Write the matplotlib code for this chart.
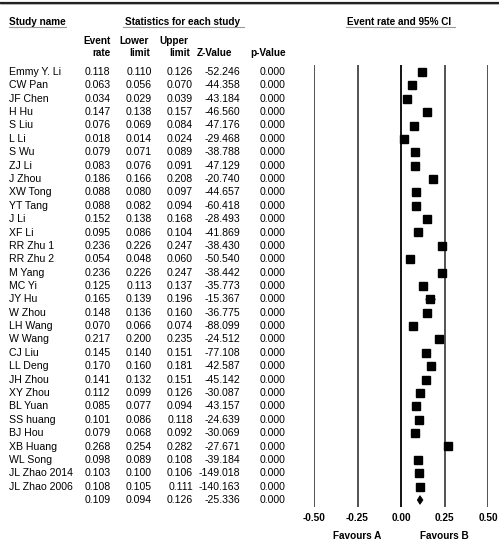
import matplotlib
matplotlib.use("Agg")
import matplotlib.pyplot as plt
from matplotlib.patches import Polygon
import matplotlib.transforms as mtransforms

plt.rcParams['font.family'] = ['Liberation Sans', 'DejaVu Sans']

study_names = ["Emmy Y. Li", "CW Pan", "JF Chen", "H Hu", "S Liu", "L Li", "S Wu", "ZJ Li",
               "J Zhou", "XW Tong", "YT Tang", "J Li", "XF Li", "RR Zhu 1", "RR Zhu 2", "M Yang",
               "MC Yi", "JY Hu", "W Zhou", "LH Wang", "W Wang", "CJ Liu", "LL Deng", "JH Zhou",
               "XY Zhou", "BL Yuan", "SS huang", "BJ Hou", "XB Huang", "WL Song",
               "JL Zhao 2014", "JL Zhao 2006"]
event_rate = [0.118, 0.063, 0.034, 0.147, 0.076, 0.018, 0.079, 0.083, 0.186, 0.088, 0.088, 0.152,
              0.095, 0.236, 0.054, 0.236, 0.125, 0.165, 0.148, 0.070, 0.217, 0.145, 0.170, 0.141,
              0.112, 0.085, 0.101, 0.079, 0.268, 0.098, 0.103, 0.108]
lower_limit = [0.110, 0.056, 0.029, 0.138, 0.069, 0.014, 0.071, 0.076, 0.166, 0.080, 0.082, 0.138,
               0.086, 0.226, 0.048, 0.226, 0.113, 0.139, 0.136, 0.066, 0.200, 0.140, 0.160, 0.132,
               0.099, 0.077, 0.086, 0.068, 0.254, 0.089, 0.100, 0.105]
upper_limit = [0.126, 0.070, 0.039, 0.157, 0.084, 0.024, 0.089, 0.091, 0.208, 0.097, 0.094, 0.168,
               0.104, 0.247, 0.060, 0.247, 0.137, 0.196, 0.160, 0.074, 0.235, 0.151, 0.181, 0.151,
               0.126, 0.094, 0.118, 0.092, 0.282, 0.108, 0.106, 0.111]
z_value = [-52.246, -44.358, -43.184, -46.560, -47.176, -29.468, -38.788, -47.129, -20.740,
           -44.657, -60.418, -28.493, -41.869, -38.430, -50.540, -38.442, -35.773, -15.367,
           -36.775, -88.099, -24.512, -77.108, -42.587, -45.142, -30.087, -43.157, -24.639,
           -30.069, -27.671, -39.184, -149.018, -140.163]
p_value = [0.000] * 32

summary_rate = 0.109
summary_lower = 0.094
summary_upper = 0.126
summary_z = -25.336
summary_p = 0.000

xticks = [-0.50, -0.25, 0.00, 0.25, 0.50]
xtick_labels = ["-0.50", "-0.25", "0.00", "0.25", "0.50"]
favour_labels = ["Favours A", "Favours B"]

W, H = 499, 548
fig = plt.figure(figsize=(W / 100, H / 100), dpi=100)
fig.patch.set_facecolor('white')

# text axes in pixel coordinates
axt = fig.add_axes([0, 0, 1, 1])
axt.set_xlim(0, W)
axt.set_ylim(H, 0)
axt.axis('off')

FS = 7.6
HFS = 7.2

# top rule
axt.plot([0, W], [2.5, 2.5], color='#222222', lw=1.6, solid_capstyle='butt')
axt.plot([0, W], [4.0, 4.0], color='#aaaaaa', lw=0.6, solid_capstyle='butt')

# header titles with underlines
axt.text(9, 22, "Study name", fontsize=HFS, fontweight='bold', ha='left', va='center')
axt.plot([9, 66], [27, 27], color='#999999', lw=0.8)
axt.text(183, 22, "Statistics for each study", fontsize=HFS, fontweight='bold', ha='center', va='center')
axt.plot([123, 244], [27, 27], color='#999999', lw=0.8)
axt.text(399, 22, "Event rate and 95% CI", fontsize=HFS, fontweight='bold', ha='center', va='center')
axt.plot([346, 455], [27, 27], color='#999999', lw=0.8)

# column headers
axt.text(111, 41, "Event", fontsize=HFS, fontweight='bold', ha='right', va='center')
axt.text(111, 53, "rate", fontsize=HFS, fontweight='bold', ha='right', va='center')
axt.text(149, 41, "Lower", fontsize=HFS, fontweight='bold', ha='right', va='center')
axt.text(150, 53, "limit", fontsize=HFS, fontweight='bold', ha='right', va='center')
axt.text(188, 41, "Upper", fontsize=HFS, fontweight='bold', ha='right', va='center')
axt.text(190, 53, "limit", fontsize=HFS, fontweight='bold', ha='right', va='center')
axt.text(232.5, 53, "Z-Value", fontsize=HFS, fontweight='bold', ha='right', va='center')
axt.text(286, 53, "p-Value", fontsize=HFS, fontweight='bold', ha='right', va='center')

ROW0 = 72.0
DY = 13.375
col_x = [110.5, 152, 193, 240.5, 286]

def row_y(i):
    return ROW0 + i * DY

for i, name in enumerate(study_names):
    y = row_y(i)
    axt.text(9, y, name, fontsize=FS, ha='left', va='center')
    vals = [f"{event_rate[i]:.3f}", f"{lower_limit[i]:.3f}", f"{upper_limit[i]:.3f}",
            f"{z_value[i]:.3f}", f"{p_value[i]:.3f}"]
    for x, v in zip(col_x, vals):
        axt.text(x, y, v, fontsize=FS, ha='right', va='center')

n = len(study_names)
ys = row_y(n)
for x, v in zip(col_x, [f"{summary_rate:.3f}", f"{summary_lower:.3f}", f"{summary_upper:.3f}",
                        f"{summary_z:.3f}", f"{summary_p:.3f}"]):
    axt.text(x, ys, v, fontsize=FS, ha='right', va='center')

# forest axes
x_left, x_right = 314.0, 488.0
y_top, y_bot = 65.0, 507.0
axf = fig.add_axes([x_left / W, 1 - y_bot / H, (x_right - x_left) / W, (y_bot - y_top) / H])
axf.set_xlim(-0.5, 0.5)
axf.set_ylim((y_bot - ROW0) / DY, (y_top - ROW0) / DY)
for s in axf.spines.values():
    s.set_visible(False)
axf.set_yticks([])
axf.patch.set_alpha(0)

for xv in xticks:
    axf.axvline(xv, color='#000000' if xv == 0 else '#444444', lw=1.3, zorder=1)

rows = list(range(n))
axf.hlines(rows, lower_limit, upper_limit, color='black', lw=1, zorder=2)
axf.plot(event_rate, rows, linestyle='none', marker='s', ms=6, color='black', zorder=3)

dh = 0.32
diamond = Polygon([[summary_lower, n], [summary_rate, n - dh], [summary_upper, n], [summary_rate, n + dh]],
                  closed=True, facecolor='black', edgecolor='black', lw=0.6, zorder=3)
axf.add_patch(diamond)

axf.set_xticks(xticks)
axf.set_xticklabels(xtick_labels, fontsize=HFS, fontweight='bold')
axf.tick_params(axis='x', length=0, pad=4)

trans = mtransforms.blended_transform_factory(axf.transData, fig.transFigure)
axf.text(-0.25, 1 - 536 / H, favour_labels[0], transform=trans, fontsize=HFS, fontweight='bold',
         ha='center', va='center', clip_on=False)
axf.text(0.25, 1 - 536 / H, favour_labels[1], transform=trans, fontsize=HFS, fontweight='bold',
         ha='center', va='center', clip_on=False)

fig.savefig("out.png", dpi=100, facecolor='white')
